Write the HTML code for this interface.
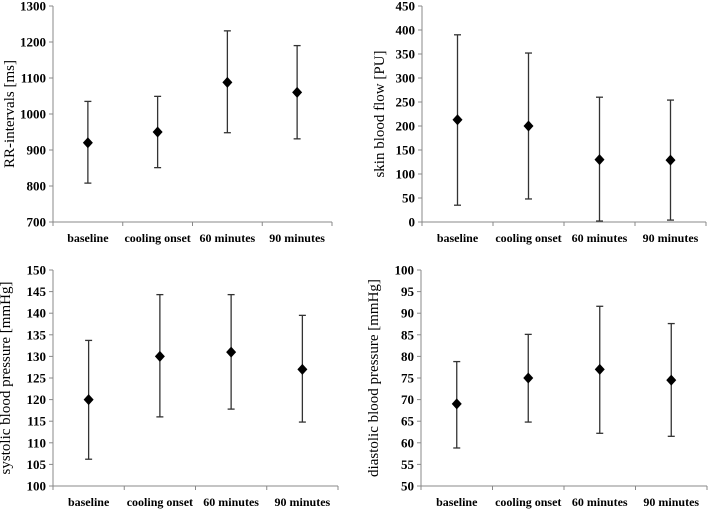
<!DOCTYPE html>
<html><head><meta charset="utf-8"><style>
body{margin:0;background:#fff;width:708px;height:509px;overflow:hidden}
svg text{font-family:"Liberation Serif","Times New Roman",Times,serif;fill:#000}
.tick{font-size:13px;font-weight:bold}
.cat{font-size:12px;font-weight:bold}
.yt{font-size:15px}
</style></head><body>
<svg id="s" width="708" height="509"></svg>
<script>
const categories=["baseline","cooling onset","60 minutes","90 minutes"];
const rrMean=[920,950,1088,1060];
const rrLow=[808,851,948,931];
const rrHigh=[1035,1049,1231,1190];
const sbfMean=[213,200,130,129];
const sbfLow=[35,48,2,4];
const sbfHigh=[390,352,260,254];
const sysMean=[120,130,131,127];
const sysLow=[106.2,116,117.8,114.8];
const sysHigh=[133.7,144.3,144.3,139.5];
const diaMean=[69,75,77,74.5];
const diaLow=[58.8,64.8,62.2,61.5];
const diaHigh=[78.8,85.1,91.6,87.6];
const rrTicks=[700,800,900,1000,1100,1200,1300];
const sbfTicks=[0,50,100,150,200,250,300,350,400,450];
const sysTicks=[100,105,110,115,120,125,130,135,140,145,150];
const diaTicks=[50,55,60,65,70,75,80,85,90,95,100];
const NS="http://www.w3.org/2000/svg";
const svg=document.getElementById('s');
function mk(tag,attrs,parent){const e=document.createElementNS(NS,tag);for(const k in attrs)e.setAttribute(k,attrs[k]);(parent||svg).appendChild(e);return e;}
function panel(name,x0,x1,yTop,yBot,ticks,mean,low,high,title,titleX){
  const g=mk('g',{});
  
  
  const tmin=ticks[0],tmax=ticks[ticks.length-1];
  const y=v=>yBot-(v-tmin)/(tmax-tmin)*(yBot-yTop);
  const bw=(x1-x0)/categories.length;
  const x=i=>x0+bw*(i+0.5);
  const ya=mk('line',{x1:x0,y1:yTop,x2:x0,y2:yBot,stroke:'#888','stroke-width':1},g);
  
  
  const xa=mk('line',{x1:x0,y1:yBot,x2:x1,y2:yBot,stroke:'#888','stroke-width':1},g);
  
  
  ticks.forEach(t=>{
    mk('line',{x1:x0-4,y1:y(t),x2:x0,y2:y(t),stroke:'#888'},g);
    const tx=mk('text',{x:x0-7,y:y(t)+4.5,'text-anchor':'end',class:'tick'},g);
    tx.textContent=t;
    
    
  });
  for(let i=0;i<=categories.length;i++)mk('line',{x1:x0+bw*i,y1:yBot,x2:x0+bw*i,y2:yBot+4,stroke:'#888'},g);
  categories.forEach((c,i)=>{
    const tx=mk('text',{x:x(i),y:yBot+20,'text-anchor':'middle',class:'cat'},g);
    tx.textContent=c;
    
    
    const eb=mk('g',{},g);
    
    
    mk('line',{x1:x(i),y1:y(high[i]),x2:x(i),y2:y(low[i]),stroke:'#333','stroke-width':1.3},eb);
    mk('line',{x1:x(i)-3.5,y1:y(high[i]),x2:x(i)+3.5,y2:y(high[i]),stroke:'#333','stroke-width':1.3},eb);
    mk('line',{x1:x(i)-3.5,y1:y(low[i]),x2:x(i)+3.5,y2:y(low[i]),stroke:'#333','stroke-width':1.3},eb);
    const cy=y(mean[i]),cx=x(i);
    const p=mk('polygon',{points:`${cx},${cy-5.5} ${cx+5},${cy} ${cx},${cy+5.5} ${cx-5},${cy}`,fill:'#000'},g);
    
    
  });
  const cyT=(yTop+yBot)/2;
  const tt=mk('text',{x:titleX,y:cyT,'text-anchor':'middle',class:'yt',transform:`rotate(-90 ${titleX} ${cyT})`},g);
  tt.textContent=title;
  
  
}
panel('rr',53,332,6,222,rrTicks,rrMean,rrLow,rrHigh,'RR-intervals  [ms]',14);
panel('skin-flow',422,706,6,222,sbfTicks,sbfMean,sbfLow,sbfHigh,'skin blood flow [PU]',384);
panel('systolic',53,338,270,486,sysTicks,sysMean,sysLow,sysHigh,'systolic  blood  pressure  [mmHg]',10);
panel('diastolic',421,707,270,486,diaTicks,diaMean,diaLow,diaHigh,'diastolic  blood  pressure  [mmHg]',378);
</script>
</body></html>
